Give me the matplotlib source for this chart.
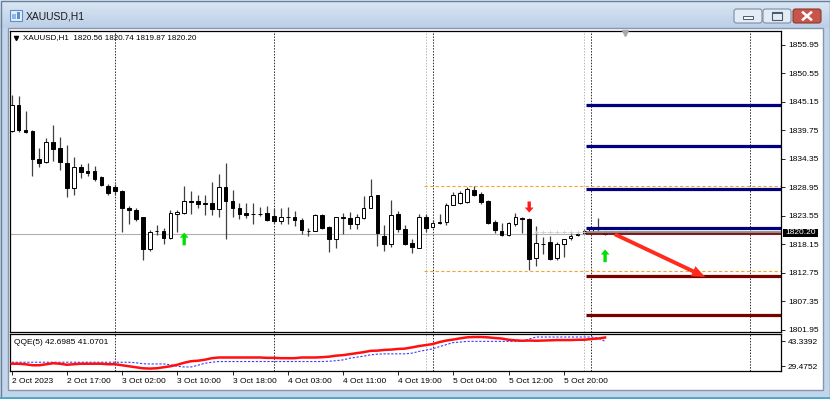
import matplotlib
matplotlib.use('Agg')
import matplotlib.pyplot as plt
from matplotlib.patches import Rectangle, FancyBboxPatch, FancyArrowPatch
import numpy as np

plt.rcParams['font.family'] = ['Liberation Sans', 'DejaVu Sans']

## hourly candles XAUUSD H1, 2 Oct 09:00 .. 5 Oct 23:00
opens = [1839.7, 1844.6, 1839.9, 1839.6, 1834.3, 1833.7, 1837.5, 1836.4, 1833.6, 1828.9,
         1832.8, 1832.0, 1832.1, 1830.9, 1829.3, 1829.1, 1828.3, 1825.1, 1824.7, 1823.3,
         1817.3, 1820.7, 1820.7, 1819.4, 1823.9, 1824.1, 1826.3, 1826.4, 1826.0, 1826.1,
         1824.8, 1829.1, 1826.4, 1825.0, 1824.1, 1823.9, 1823.85, 1824.1, 1823.6, 1822.6,
         1823.35, 1823.3, 1822.8, 1820.7, 1820.7, 1823.7, 1821.5, 1819.1, 1823.25, 1823.1,
         1822.1, 1823.1, 1825.0, 1827.6, 1819.7, 1818.3, 1824.0, 1821.0, 1818.5, 1817.5,
         1823.4, 1821.5, 1822.5, 1822.5, 1825.7, 1826.0, 1826.2, 1828.4, 1827.7, 1826.4,
         1822.4, 1820.7, 1819.9, 1822.0, 1823.05, 1823.05, 1815.6, 1818.2, 1818.6, 1815.6,
         1818.3, 1819.3, 1820.0, 1820.3, 1820.5, 1821.2, 1820.56]
highs = [1846.4, 1846.3, 1843.4, 1839.8, 1836.4, 1838.3, 1840.8, 1838.5, 1837.0, 1834.7,
         1833.4, 1833.6, 1833.0, 1831.1, 1829.6, 1829.6, 1828.4, 1825.5, 1825.1, 1823.4,
         1820.9, 1821.8, 1821.2, 1824.7, 1824.7, 1829.3, 1828.3, 1827.5, 1827.5, 1829.9,
         1831.5, 1833.6, 1828.5, 1826.1, 1826.1, 1826.1, 1825.3, 1825.5, 1825.0, 1825.0,
         1825.3, 1824.5, 1823.1, 1821.3, 1824.0, 1824.0, 1821.6, 1823.4, 1824.2, 1824.4,
         1823.9, 1827.4, 1830.5, 1827.6, 1821.8, 1826.5, 1824.5, 1821.9, 1819.1, 1823.9,
         1823.9, 1822.7, 1824.0, 1826.0, 1828.1, 1828.3, 1829.0, 1829.3, 1828.1, 1826.5,
         1822.8, 1822.3, 1822.4, 1824.2, 1823.3, 1823.1, 1821.6, 1819.6, 1819.7, 1818.6,
         1819.2, 1820.3, 1820.4, 1821.0, 1821.3, 1823.25, 1820.74]
lows = [1839.5, 1839.5, 1839.3, 1831.1, 1832.8, 1833.6, 1834.0, 1832.3, 1827.2, 1827.6,
        1830.7, 1831.1, 1830.2, 1829.2, 1827.5, 1827.5, 1820.5, 1822.0, 1822.6, 1815.3,
        1816.9, 1819.9, 1818.3, 1819.1, 1820.5, 1824.0, 1823.9, 1825.1, 1823.7, 1823.7,
        1823.3, 1819.2, 1823.3, 1822.9, 1823.1, 1822.0, 1823.6, 1822.6, 1822.2, 1822.0,
        1822.0, 1821.6, 1820.1, 1819.7, 1820.7, 1821.0, 1816.8, 1817.4, 1820.2, 1821.0,
        1821.0, 1822.9, 1825.0, 1817.8, 1816.9, 1817.6, 1820.5, 1818.0, 1816.6, 1817.5,
        1820.6, 1821.2, 1822.0, 1821.8, 1825.6, 1825.8, 1826.1, 1827.3, 1825.9, 1822.1,
        1820.4, 1819.7, 1819.7, 1821.6, 1820.4, 1813.25, 1814.0, 1816.4, 1815.3, 1815.3,
        1815.8, 1819.0, 1819.8, 1820.2, 1820.4, 1820.8, 1819.87]
closes = [1844.6, 1839.9, 1839.5, 1834.3, 1833.5, 1837.5, 1836.3, 1833.8, 1828.9, 1832.8,
          1831.8, 1831.7, 1830.5, 1829.4, 1827.9, 1828.3, 1825.0, 1824.7, 1822.9, 1817.3,
          1820.5, 1820.8, 1819.4, 1824.1, 1824.3, 1826.3, 1826.2, 1825.8, 1825.9, 1824.8,
          1829.1, 1826.4, 1825.0, 1823.9, 1823.7, 1823.85, 1823.9, 1822.8, 1822.6, 1823.4,
          1823.4, 1822.8, 1820.9, 1820.75, 1823.7, 1821.2, 1819.1, 1823.3, 1823.2, 1822.1,
          1823.3, 1825.0, 1827.4, 1820.4, 1818.3, 1823.7, 1821.0, 1818.3, 1817.7, 1823.4,
          1821.2, 1822.3, 1822.2, 1825.7, 1827.6, 1828.0, 1828.6, 1827.5, 1826.2, 1822.3,
          1820.9, 1819.9, 1822.2, 1823.4, 1823.0, 1815.4, 1818.5, 1818.3, 1815.4, 1818.3,
          1819.1, 1819.7, 1820.1, 1820.7, 1821.15, 1821.3, 1820.20]

## QQE(5) sub window lines
qqe_main = [30.86, 30.86, 30.58, 30.03, 30.03, 30.58, 31.14, 30.86, 30.31, 30.58,
            30.86, 30.86, 30.86, 30.86, 30.58, 30.58, 30.03, 29.47, 28.92, 28.37,
            28.20, 28.37, 28.92, 29.47, 30.31, 31.42, 32.25, 32.53, 33.08, 33.91,
            34.30, 34.30, 34.30, 34.30, 34.30, 34.30, 34.30, 34.10, 34.10, 33.91,
            33.91, 33.91, 34.30, 34.30, 34.30, 34.47, 34.75, 35.30, 35.58, 36.13,
            36.68, 37.24, 37.96, 38.07, 38.46, 38.63, 39.01, 39.18, 39.85, 40.57,
            41.12, 41.68, 42.78, 43.62, 44.17, 44.84, 45.39, 45.56, 45.56, 45.39,
            45.00, 44.73, 44.06, 43.73, 43.51, 43.62, 43.51, 43.62, 43.73, 43.89,
            43.89, 43.89, 44.06, 44.06, 44.45, 44.73, 45.28]
qqe_signal = [31.69, 31.69, 31.69, 31.69, 31.69, 31.69, 31.69, 31.69, 31.69, 31.69,
              31.69, 31.69, 31.69, 31.69, 31.69, 31.69, 31.69, 31.69, 31.42, 30.86,
              30.75, 30.75, 30.75, 30.31, 29.47, 29.09, 29.09, 30.03, 31.14, 31.69,
              32.08, 32.08, 32.08, 32.08, 32.08, 32.08, 32.08, 32.08, 32.08, 32.08,
              32.08, 32.08, 32.08, 32.08, 32.08, 32.08, 32.25, 32.53, 32.97, 33.91,
              34.47, 35.02, 35.74, 36.13, 36.30, 36.30, 36.30, 36.30, 36.68, 37.63,
              38.35, 39.07, 40.29, 41.40, 42.51, 42.78, 43.17, 43.17, 43.17, 43.17,
              43.17, 43.17, 43.17, 43.17, 43.17, 44.45, 45.56, 45.56, 45.56, 45.56,
              45.56, 45.56, 45.56, 45.56, 45.56, 45.00, 43.17]

## axis labels
price_ticks = [1855.95, 1850.55, 1845.15, 1839.75, 1834.35, 1828.95,
               1823.55, 1818.15, 1812.75, 1807.35, 1801.95]
qqe_ticks = [43.3392, 29.4752]
time_idx = [0, 8, 16, 24, 32, 40, 48, 56, 64, 72, 80]
time_labels = ['2 Oct 2023', '2 Oct 17:00', '3 Oct 02:00', '3 Oct 10:00', '3 Oct 18:00',
               '4 Oct 03:00', '4 Oct 11:00', '4 Oct 19:00', '5 Oct 04:00', '5 Oct 12:00',
               '5 Oct 20:00']

## objects drawn on chart
day_sep = [15, 38, 61, 84, 107]
grey_sep = [60, 83]
day_hi, day_lo = 1829.3, 1813.2
blue_levels = [1844.6, 1836.8, 1828.6, 1821.2]
red_levels = [1820.05, 1812.2, 1804.7]
grey_level = 1820.6
bid = 1820.20
buy_sig = [(25, 1818.0, 1820.4), (86, 1814.8, 1817.2)]
sell_sig = [(75, 1826.3, 1824.2)]
trend_arrow = ((87.4, 1820.1), (100.5, 1812.0))

W, H = 830, 399
BAR = 6.9      ## pixels per bar
X0 = 11.7      ## pixel x of bar 0

fig = plt.figure(figsize=(W / 100, H / 100), dpi=100)

def px_axes(x0, y0, x1, y1):
    return fig.add_axes([x0 / W, 1 - y1 / H, (x1 - x0) / W, (y1 - y0) / H])

##---- window chrome
bg = fig.add_axes([0, 0, 1, 1])
bg.set_xlim(0, W)
bg.set_ylim(H, 0)
bg.axis('off')
bg.add_patch(Rectangle((0, 0), W, H, facecolor='#c3d5ea', edgecolor='none'))
grad = np.linspace(0, 1, 30).reshape(-1, 1)
bg.imshow(grad, extent=(0, W, 28, 0), cmap=matplotlib.colors.LinearSegmentedColormap.from_list(
    'tb', ['#dbe7f4', '#bccfe6']), aspect='auto', zorder=1)
bg.add_patch(Rectangle((0.5, 0.5), W - 1, H - 1, facecolor='none', edgecolor='#6a7f98', lw=1, zorder=2))
bg.plot([0, W], [397.5, 397.5], color='#4aa6c6', lw=2, zorder=2)
bg.add_patch(Rectangle((7.5, 27.5), 815, 362, facecolor='white', edgecolor='#8497ae', lw=1, zorder=2))

## title icon + text
bg.add_patch(Rectangle((10, 10), 12, 11, facecolor='#e4effa', edgecolor='#5d8fcf', lw=0.8, zorder=3))
bg.add_patch(Rectangle((12, 14), 4, 5, facecolor='#8fb6e6', edgecolor='none', zorder=3))
bg.add_patch(Rectangle((17, 12), 3, 7, facecolor='#5d8fcf', edgecolor='none', zorder=3))
bg.text(26, 16.5, 'XAUUSD,H1', fontsize=7.5, va='center', ha='left', color='#1b1b1b', zorder=3)

## title buttons
for bx, fc, ec in [(734, '#e3ebf5', '#7b8ea6'), (763, '#e3ebf5', '#7b8ea6'), (793, '#c9544a', '#8a3a33')]:
    bg.add_patch(FancyBboxPatch((bx, 9), 28, 14, boxstyle='round,pad=0,rounding_size=2.5',
                                facecolor=fc, edgecolor=ec, lw=0.8, zorder=3))
bg.add_patch(Rectangle((743, 16), 10, 2.5, facecolor='#f5f7fa', edgecolor='#4b5b70', lw=0.7, zorder=4))
bg.add_patch(Rectangle((772, 12), 10, 8, facecolor='none', edgecolor='#4b5b70', lw=0.8, zorder=4))
bg.add_patch(Rectangle((772, 12), 10, 2, facecolor='#4b5b70', edgecolor='none', zorder=4))
bg.plot([803, 811], [12.5, 19.5], color='white', lw=1.8, zorder=4)
bg.plot([803, 811], [19.5, 12.5], color='white', lw=1.8, zorder=4)

##---- main price window
ax = px_axes(10, 31, 781, 332)
xlim = ((10 - X0) / BAR, (781 - X0) / BAR)
ax.set_xlim(*xlim)
ax.set_ylim(1801.57, 1858.60)
ax.set_zorder(5)

for i in day_sep:
    ax.axvline(i, color='#2a2a2a', lw=0.7, ls=(0, (1.5, 1.5)), zorder=1)
for i in grey_sep:
    ax.axvline(i, color='#b8b8b8', lw=0.7, ls=(0, (1.5, 1.5)), zorder=1)

ax.axhline(bid, color='#b0b0b0', lw=0.8, zorder=1)
ax.hlines([day_hi, day_lo], grey_sep[0] - 0.2, xlim[1], colors='#f7a530', lw=0.8,
          linestyles=(0, (3, 2)), zorder=1)

## candles
for i in range(len(opens)):
    o, h, l, c = opens[i], highs[i], lows[i], closes[i]
    ax.vlines(i, l, h, color='#404040', lw=0.9, zorder=3)
    bull = c >= o
    ax.add_patch(Rectangle((i - 0.27, min(o, c)), 0.54, max(abs(c - o), 0.1),
                           facecolor='white' if bull else 'black', edgecolor='black',
                           lw=0.7, zorder=4))

## dotted marker trail near current price
ax.plot(np.arange(76, 90), [grey_level - 0.1] * 14, color='#c8c8c8', lw=0.6,
        ls=(0, (1, 1)), marker='+', ms=2.5, mew=0.5, zorder=5)

## support / resistance levels
for lv in blue_levels:
    ax.hlines(lv, 83.2, xlim[1], colors='#000080', lw=2.3, zorder=6)
ax.hlines(grey_level, 83.2, xlim[1], colors='#8c8c8c', lw=2.0, zorder=6)
for k, lv in enumerate(red_levels):
    ax.hlines(lv, 83.2, xlim[1], colors='#7a0000', lw=1.2 if k == 0 else 2.3, zorder=6)

## trend arrow + signals
ax.add_patch(FancyArrowPatch(trend_arrow[0], trend_arrow[1],
                             arrowstyle='simple,head_length=1.2,head_width=1.0,tail_width=0.35',
                             mutation_scale=8, color='#ff2b1c', lw=0, zorder=7,
                             shrinkA=0, shrinkB=0))
sig_style = 'simple,head_length=0.6,head_width=1.05,tail_width=0.4'
for i, y0, y1 in buy_sig:
    ax.add_patch(FancyArrowPatch((i, y0), (i, y1), arrowstyle=sig_style, mutation_scale=6,
                                 color='#00e000', lw=0, zorder=7, shrinkA=0, shrinkB=0))
for i, y0, y1 in sell_sig:
    ax.add_patch(FancyArrowPatch((i, y0), (i, y1), arrowstyle=sig_style, mutation_scale=6,
                                 color='#ff1a1a', lw=0, zorder=7, shrinkA=0, shrinkB=0))

ax.set_xticks([])
ax.yaxis.tick_right()
ax.set_yticks(price_ticks)
ax.set_yticklabels(['%.2f' % p for p in price_ticks])
ax.tick_params(axis='y', direction='out', length=3, width=0.6, pad=2, labelsize=6)
for sp in ax.spines.values():
    sp.set_linewidth(0.9)
    sp.set_color('black')

##---- QQE sub window
sub = px_axes(10, 334, 781, 371)
sub.set_xlim(*xlim)
sub.set_ylim(26.87, 47.22)
sub.set_zorder(5)
for i in day_sep:
    sub.axvline(i, color='#2a2a2a', lw=0.7, ls=(0, (1.5, 1.5)), zorder=1)
for i in grey_sep:
    sub.axvline(i, color='#b8b8b8', lw=0.7, ls=(0, (1.5, 1.5)), zorder=1)
xi = np.arange(len(qqe_main))
sub.plot(xi, qqe_signal, color='#3a3aff', lw=0.8, ls=(0, (2, 1.5)), zorder=2)
sub.plot(xi, qqe_main, color='#ff1010', lw=1.8, zorder=3)
sub.yaxis.tick_right()
sub.set_yticks(qqe_ticks)
sub.set_yticklabels(['%.4f' % v for v in qqe_ticks])
sub.set_xticks(time_idx)
sub.set_xticklabels(time_labels)
for lab in sub.get_xticklabels():
    lab.set_horizontalalignment('left')
sub.tick_params(direction='out', length=3, width=0.6, pad=2, labelsize=6)
for sp in sub.spines.values():
    sp.set_linewidth(0.9)
    sp.set_color('black')

##---- header texts, bid tag, shift marker
fg = fig.add_axes([0, 0, 1, 1])
fg.set_xlim(0, W)
fg.set_ylim(H, 0)
fg.axis('off')
fg.set_zorder(10)
fg.plot([16], [37.8], marker='v', color='black', ms=3)
fg.text(23, 38, 'XAUUSD,H1  %.2f %.2f %.2f %.2f' % (opens[-1], highs[-1], lows[-1], closes[-1]),
        fontsize=5.8, va='center', ha='left')
fg.text(14, 343, 'QQE(5) 42.6985 41.0701', fontsize=6, va='center', ha='left')
fg.plot([625], [32.5], marker='v', color='#a8a8a8', ms=4)
fg.add_patch(Rectangle((782.5, 229), 35, 8, facecolor='black', edgecolor='none'))
fg.text(785, 233, '%.2f' % bid, color='white', fontsize=6, va='center', ha='left')

fig.savefig('out.png', dpi=100)
